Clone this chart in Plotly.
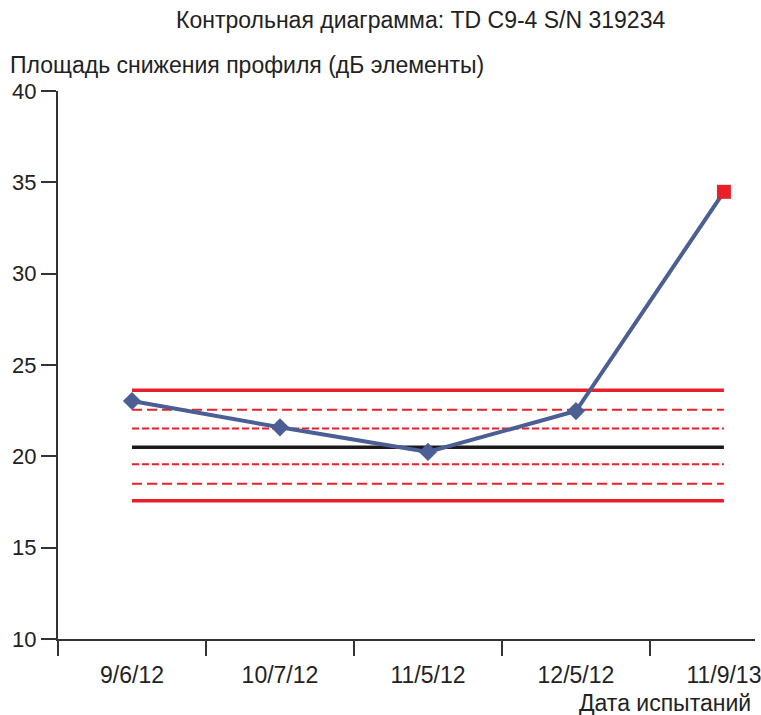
import plotly.graph_objects as go

# ---- data ----
dates = ["9/6/12", "10/7/12", "11/5/12", "12/5/12", "11/9/13"]
values = [23.03, 21.59, 20.24, 22.48, 34.48]
point_symbols = ["diamond", "diamond", "diamond", "diamond", "square"]
point_colors = ["#4B5F94", "#4B5F94", "#4B5F94", "#4B5F94", "#E8202A"]

center_line = 20.5
ucl, lcl = 23.62, 17.57
upper_2s, lower_2s = 22.55, 18.5
upper_1s, lower_1s = 21.52, 19.57

y_ticks = [10, 15, 20, 25, 30, 35, 40]

title_text = "Контрольная диаграмма: TD C9-4 S/N 319234"
y_title = "Площадь снижения профиля (дБ элементы)"
x_title = "Дата испытаний"

RED = "#E8202A"
BLUE = "#4B5F94"
FONT = "Liberation Sans, Arial, sans-serif"

fig = go.Figure()

def hline(val, color, width, dash):
    fig.add_trace(go.Scatter(
        x=dates, y=[val] * len(dates), mode="lines",
        line=dict(color=color, width=width, dash=dash),
        hoverinfo="skip", showlegend=False))

hline(ucl, RED, 3.5, "solid")
hline(lcl, RED, 3.5, "solid")
hline(upper_2s, RED, 2, "10px,5px")
hline(lower_2s, RED, 2, "10px,5px")
hline(upper_1s, RED, 2, "7px,3px")
hline(lower_1s, RED, 2, "7px,3px")
hline(center_line, "#1A1A1A", 3.5, "solid")

fig.add_trace(go.Scatter(
    x=dates, y=values, mode="lines+markers",
    line=dict(color=BLUE, width=4),
    marker=dict(symbol=point_symbols, color=point_colors, size=14,
                line=dict(width=0)),
    showlegend=False))

W, H = 761, 715
ml, mr, mt, mb = 58, 0, 91, 76

fig.update_layout(
    width=W, height=H, autosize=False,
    margin=dict(l=ml, r=mr, t=mt, b=mb),
    paper_bgcolor="white", plot_bgcolor="white",
    font=dict(family=FONT, size=23, color="#222"),
    xaxis=dict(
        type="category", categoryorder="array", categoryarray=dates,
        range=[-0.5, 4.21], tickson="boundaries",
        ticks="outside", ticklen=15, tickwidth=2, tickcolor="#333",
        showline=True, linecolor="#333", linewidth=2,
        showgrid=False, zeroline=False,
        tickfont=dict(size=23, color="#222"),
        ticklabelstandoff=14,
    ),
    yaxis=dict(
        range=[10, 40], tickvals=y_ticks,
        ticks="outside", ticklen=15, tickwidth=2, tickcolor="#333",
        showline=True, linecolor="#333", linewidth=2,
        showgrid=False, zeroline=False,
        tickfont=dict(size=22, color="#222"),
    ),
    annotations=[
        dict(text=title_text, xref="paper", yref="paper",
             x=(424 - ml) / (W - ml - mr), y=1 + (mt - 20) / (H - mt - mb),
             xanchor="center", yanchor="middle", showarrow=False,
             font=dict(size=23, color="#222")),
        dict(text=y_title, xref="paper", yref="paper",
             x=(8 - ml) / (W - ml - mr), y=1 + (mt - 65) / (H - mt - mb),
             xanchor="left", yanchor="middle", showarrow=False,
             font=dict(size=23, color="#222")),
        dict(text=x_title, xref="paper", yref="paper",
             x=(759 - ml) / (W - ml - mr), y=-(703 - (H - mb)) / (H - mt - mb),
             xanchor="right", yanchor="middle", showarrow=False,
             font=dict(size=23, color="#222")),
    ],
)

fig.write_html("out.html", post_script="document.body.style.margin='0';",
               config={"displayModeBar": False})
